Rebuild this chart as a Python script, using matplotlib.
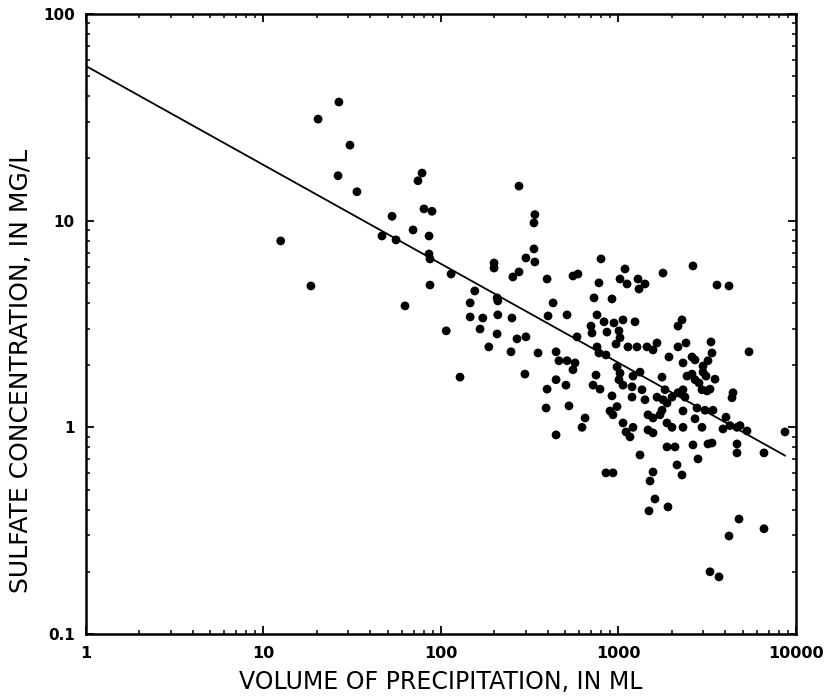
import matplotlib
matplotlib.use("Agg")
import matplotlib.pyplot as plt
from matplotlib.ticker import LogLocator, NullFormatter, FixedLocator, FixedFormatter

# Volume of precipitation (mL) and sulfate concentration (mg/L)
volume_ml = [
    12.5, 18.5, 20.3, 26.6, 26.3, 30.7, 33.6, 46.5, 53.0, 55.8,
    62.7, 69.6, 74.2, 78.2, 80.2, 89.0, 85.6, 85.6, 86.7, 86.7,
    114, 107, 128, 155, 199, 199, 207, 275, 338, 334,
    334, 301, 338, 275, 254, 396, 554, 591, 797, 1088,
    776, 1020, 1117, 1288, 1410, 1305, 1781, 2628, 3588, 4193,
    728, 919, 146, 209, 146, 172, 209, 251, 166, 207,
    268, 186, 248, 301, 428, 401, 513, 757, 584, 700,
    709, 829, 943, 1060, 1239, 1006, 1020, 968, 861, 757,
    776, 850, 1131, 1271, 1447, 1565, 1648, 352, 445, 462,
    513, 569, 554, 297, 981, 1020, 1006, 1060, 1192, 1207,
    1322, 747, 445, 506, 719, 787, 396, 919, 1192, 1356,
    1410, 1648, 391, 526, 896, 981, 931, 648, 623, 1466,
    1565, 1060, 1102, 1161, 1207, 1466, 1565, 445, 2279, 2164,
    3319, 5436, 2164, 2401, 1925, 2309, 2595, 2698, 3363, 3193,
    2993, 2993, 3112, 3497, 2432, 2595, 2698, 2841, 2954, 3152,
    3277, 1759, 4418, 4360, 1828, 2002, 2164, 2309, 2369, 1781,
    1876, 1759, 1713, 2769, 3071, 3407, 2309, 4033, 2698, 2954,
    1876, 2002, 2309, 3879, 4248, 4652, 4835, 5295, 8670, 1876,
    2081, 2628, 3193, 3363, 4652, 850, 931, 1322, 1565, 1505,
    1605, 1485, 1900, 2136, 2279, 2805, 4652, 6602, 4774, 4193,
    6602, 3277, 3683,
]
sulfate_mg_l = [
    7.98, 4.83, 31.0, 37.5, 16.5, 23.2, 13.8, 8.43, 10.5, 8.07,
    3.87, 9.02, 15.6, 17.0, 11.4, 11.1, 8.43, 6.90, 6.53, 4.88,
    5.52, 2.93, 1.75, 4.57, 6.24, 5.90, 4.23, 14.7, 10.7, 9.75,
    7.30, 6.60, 6.31, 5.65, 5.34, 5.22, 5.40, 5.52, 6.53, 5.84,
    5.00, 5.22, 4.94, 5.22, 4.94, 4.67, 5.58, 6.04, 4.88, 4.83,
    4.23, 4.18, 4.00, 4.09, 3.42, 3.38, 3.50, 3.38, 2.99, 2.83,
    2.68, 2.45, 2.32, 2.74, 4.00, 3.46, 3.50, 3.50, 2.74, 3.09,
    2.86, 3.24, 3.20, 3.31, 3.24, 2.93, 2.71, 2.53, 2.89, 2.45,
    2.29, 2.24, 2.45, 2.45, 2.45, 2.37, 2.56, 2.29, 2.32, 2.10,
    2.10, 2.05, 1.90, 1.81, 1.96, 1.83, 1.70, 1.60, 1.57, 1.77,
    1.85, 1.79, 1.70, 1.60, 1.60, 1.53, 1.53, 1.42, 1.40, 1.52,
    1.36, 1.40, 1.24, 1.27, 1.20, 1.26, 1.15, 1.11, 1.00, 1.15,
    1.11, 1.05, 0.950, 0.899, 1.00, 0.971, 0.940, 0.919, 3.31, 3.09,
    2.59, 2.32, 2.45, 2.56, 2.19, 2.05, 2.19, 2.12, 2.29, 2.10,
    1.98, 1.85, 1.77, 1.71, 1.77, 1.81, 1.70, 1.64, 1.52, 1.50,
    1.53, 1.75, 1.47, 1.39, 1.52, 1.40, 1.47, 1.52, 1.40, 1.36,
    1.31, 1.21, 1.15, 1.24, 1.21, 1.21, 1.20, 1.12, 1.10, 1.00,
    1.05, 1.00, 1.00, 0.982, 1.02, 1.00, 1.02, 0.961, 0.950, 0.804,
    0.804, 0.822, 0.831, 0.840, 0.831, 0.602, 0.602, 0.735, 0.608, 0.550,
    0.450, 0.394, 0.412, 0.658, 0.588, 0.703, 0.752, 0.752, 0.360, 0.298,
    0.323, 0.200, 0.189,
]

# Fitted regression line endpoints
line_volume = [1, 8670]
line_sulfate = [56, 0.73]

x_ticks = [1, 10, 100, 1000, 10000]
x_tick_labels = ["1", "10", "100", "1000", "10000"]
y_ticks = [0.1, 1, 10, 100]
y_tick_labels = ["0.1", "1", "10", "100"]

x_label = "VOLUME OF PRECIPITATION, IN ML"
y_label = "SULFATE CONCENTRATION, IN MG/L"

plt.rcParams['font.family'] = ['DejaVu Sans']

fig = plt.figure(figsize=(8.29, 7.0), dpi=100)
ax = fig.add_axes([86/829, 1 - 634/700, (796-86)/829, (634-14)/700])

ax.set_xscale('log')
ax.set_yscale('log')
ax.set_xlim(1, 10000)
ax.set_ylim(0.1, 100)

ax.plot(line_volume, line_sulfate, color='black', lw=1.3, zorder=2)
ax.scatter(volume_ml, sulfate_mg_l, s=40, color='black', edgecolors='none', zorder=3)

ax.xaxis.set_major_locator(FixedLocator(x_ticks))
ax.xaxis.set_major_formatter(FixedFormatter(x_tick_labels))
ax.yaxis.set_major_locator(FixedLocator(y_ticks))
ax.yaxis.set_major_formatter(FixedFormatter(y_tick_labels))
ax.xaxis.set_minor_locator(LogLocator(base=10, subs=range(2, 10), numticks=20))
ax.yaxis.set_minor_locator(LogLocator(base=10, subs=range(2, 10), numticks=20))
ax.xaxis.set_minor_formatter(NullFormatter())
ax.yaxis.set_minor_formatter(NullFormatter())

ax.tick_params(which='both', direction='in', top=True, right=True, color='black')
ax.tick_params(which='major', length=6, width=1.3)
ax.tick_params(which='minor', length=3, width=1.1)
ax.tick_params(axis='x', which='major', pad=9, labelsize=11.5)
ax.tick_params(axis='y', which='major', pad=8, labelsize=11)
for lab in ax.get_xticklabels() + ax.get_yticklabels():
    lab.set_fontweight('bold')

for sp in ax.spines.values():
    sp.set_linewidth(1.8)
    sp.set_color('black')

ax.set_xlabel(x_label, fontsize=17)
ax.xaxis.set_label_coords(0.5, -0.058)
ax.set_ylabel(y_label, fontsize=18)
ax.yaxis.set_label_coords(-0.075, 0.424)

fig.savefig("out.png", dpi=100, facecolor='white')
